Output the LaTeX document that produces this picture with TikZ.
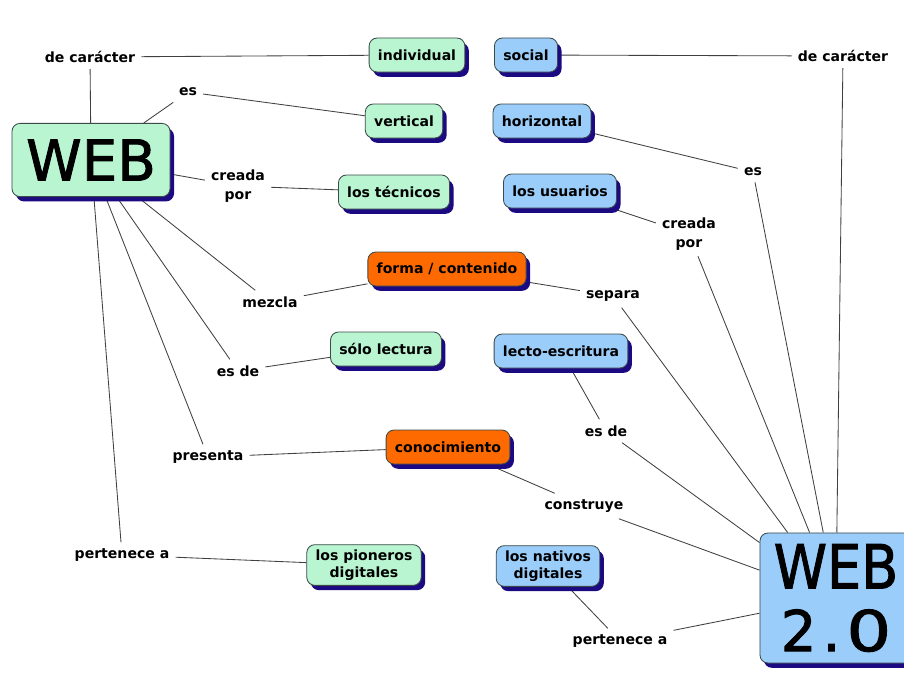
\documentclass[tikz,border=0pt]{standalone}
\usepackage{fontspec}
\setmainfont{DejaVu Sans}
\newfontfamily\webfont[FakeBold=1.6]{DejaVu Sans}
\usetikzlibrary{shadows}

\definecolor{conceptgreen}{HTML}{B8F5D0}
\definecolor{conceptblue}{HTML}{9ACDFA}
\definecolor{conceptorange}{HTML}{FF6A00}
\definecolor{shadowblue}{HTML}{1C0A82}
\definecolor{edgegray}{HTML}{3C4A4A}
\definecolor{linkgray}{HTML}{404040}

\pgfdeclarelayer{back}
\pgfsetlayers{back,main}

\tikzset{
  concept/.style={draw=edgegray, line width=0.6pt, rounded corners=0.2cm,
    font=\bfseries\fontsize{10}{12.5}\selectfont, align=center,
    minimum height=0.85cm, inner xsep=0.22cm,
    drop shadow={shadow xshift=0.1cm, shadow yshift=-0.12cm, fill=shadowblue, opacity=1}},
  greenbox/.style={concept, fill=conceptgreen},
  bluebox/.style={concept, fill=conceptblue},
  orangebox/.style={concept, fill=conceptorange},
  bigbox/.style={concept, font=\webfont\fontsize{40}{44.6}\selectfont, inner sep=0pt},
  linkword/.style={font=\bfseries\fontsize{10}{13}\selectfont, align=center, inner sep=0.15cm},
  link/.style={draw=linkgray, line width=0.6pt},
}

\begin{document}
\begin{tikzpicture}[x=0.025cm, y=-0.025cm]
\useasboundingbox (0,0) rectangle (904,679);

% concepts
\node[bigbox, fill=conceptgreen, minimum width=3.95cm, minimum height=1.83cm] (web) at (91,160) {WEB};
\node[bigbox, fill=conceptblue, minimum width=3.8cm, minimum height=3.25cm] (web2) at (836,598) {\scalebox{0.96}[1.08]{WEB}\\2\kern0.15cm.\kern0.15cm\scalebox{1.25}[1]{0}};

\node[greenbox] (individual) at (417,55) {individual};
\node[bluebox] (social) at (526,55) {social};
\node[greenbox] (vertical) at (404,121) {vertical};
\node[bluebox] (horizontal) at (542,121) {horizontal};
\node[greenbox] (tecnicos) at (394,192) {los técnicos};
\node[bluebox] (usuarios) at (560,191) {los usuarios};
\node[orangebox] (forma) at (447,269) {forma / contenido};
\node[greenbox] (lectura) at (386,349) {sólo lectura};
\node[bluebox] (escritura) at (561,351) {lecto-escritura};
\node[orangebox] (conocimiento) at (448,447) {conocimiento};
\node[greenbox] (pioneros) at (364,565) {los pioneros\\digitales};
\node[bluebox] (nativos) at (548,566) {los nativos\\digitales};

% linking words
\node[linkword] (carL) at (90,57) {de carácter};
\node[linkword] (esL) at (188,92) {es};
\node[linkword] (creadaL) at (238,186) {creada\\por};
\node[linkword] (mezcla) at (270,302) {mezcla};
\node[linkword] (esdeL) at (238,371) {es de};
\node[linkword] (presenta) at (208,457) {presenta};
\node[linkword] (perteneceL) at (122,555) {pertenece a};

\node[linkword] (carR) at (843,56) {de carácter};
\node[linkword] (esR) at (753,172) {es};
\node[linkword] (creadaR) at (689,234) {creada\\por};
\node[linkword] (separa) at (613,296) {separa};
\node[linkword] (esdeR) at (606,431) {es de};
\node[linkword] (construye) at (584,506) {construye};
\node[linkword] (perteneceR) at (620,641) {pertenece a};

\begin{pgfonlayer}{back}
\fill[white] (0,0) rectangle (904,679);
% web
\foreach \a/\b in {web/carL, carL/individual, web/esL, esL/vertical,
    web/creadaL, creadaL/tecnicos, web/mezcla, mezcla/forma,
    web/esdeL, esdeL/lectura, web/presenta, presenta/conocimiento,
    web/perteneceL, perteneceL/pioneros}
  \draw[link] (\a) -- (\b);
% web 2.0
\foreach \a/\b in {social/carR, carR/web2, horizontal/esR, esR/web2,
    usuarios/creadaR, creadaR/web2, forma/separa, separa/web2,
    escritura/esdeR, esdeR/web2, conocimiento/construye, construye/web2,
    nativos/perteneceR, perteneceR/web2}
  \draw[link] (\a) -- (\b);
\end{pgfonlayer}
\end{tikzpicture}
\end{document}
